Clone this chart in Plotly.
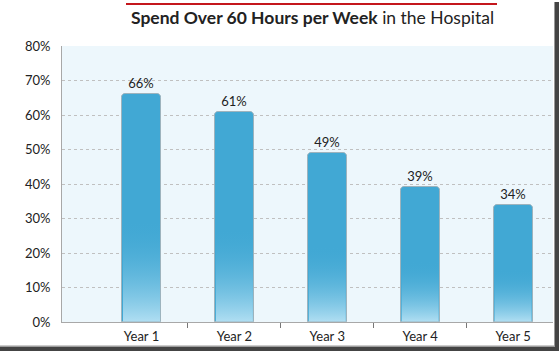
import plotly.graph_objects as go
import numpy as np

categories = ["Year 1", "Year 2", "Year 3", "Year 4", "Year 5"]
values = [66, 61, 49, 39, 34]
y_ticks = [0, 10, 20, 30, 40, 50, 60, 70, 80]
y_tick_labels = [f"{v}%" for v in y_ticks]

W, H = 559, 351
L, R, T, B = 62, 6, 46, 29
PW, PH = W - L - R, H - T - B
XR = [-0.856, 4.43]
YR = [0, 80]

def px_x(p):
    return (p - L) / PW

def px_y(p):
    return (H - B - p) / PH

BAR_W = 0.42
DARK = "#41a8d4"

fig = go.Figure()
xs = list(range(len(categories)))

fig.add_trace(go.Bar(
    x=xs, y=values, width=BAR_W,
    marker=dict(color=DARK, line=dict(color="#9db3bd", width=1), cornerradius=4),
    text=[f"{v}%" for v in values], textposition="outside",
    textfont=dict(family="Lato", size=13, color="#222"),
    cliponaxis=False, hoverinfo="skip", showlegend=False,
))

# gradient overlay on the lower part of each bar
ux = (XR[1] - XR[0]) / PW
for i, v in zip(xs, values):
    x0 = i - BAR_W / 2 + 1.0 * ux
    x1 = i + BAR_W / 2 - 1.0 * ux
    top = v * 0.45
    fig.add_trace(go.Scatter(
        x=[x0, x1, x1, x0, x0], y=[0.15, 0.15, top, top, 0.15],
        mode="lines", line=dict(width=0), fill="toself",
        fillgradient=dict(type="vertical",
                          colorscale=[[0, "rgba(175,222,242,1)"], [1, "rgba(65,168,212,0)"]]),
        hoverinfo="skip", showlegend=False,
    ))

fig.update_layout(
    width=W, height=H,
    margin=dict(l=L, r=R, t=T, b=B),
    paper_bgcolor="white", plot_bgcolor="#edf7fc",
    font=dict(family="Lato", color="#222"),
    title=dict(text="<b>Spend Over 60 Hours per Week</b> in the Hospital",
               x=px_x(312.5), xref="paper", xanchor="center",
               y=1 - 18 / H, yref="container", yanchor="middle",
               font=dict(family="Lato", size=17.5, color="#222")),
    xaxis=dict(range=XR, tickvals=xs, ticktext=categories, ticks="",
               showgrid=False, zeroline=False, showline=True, linecolor="#a8a8a8",
               linewidth=1, tickfont=dict(size=13, color="#222"),
               ticklabelstandoff=2,
               minor=dict(tickmode="array", tickvals=[0.5, 1.5, 2.5, 3.5],
                          ticks="outside", ticklen=5, tickcolor="#777", showgrid=False)),
    yaxis=dict(range=YR, tickvals=y_ticks, ticktext=y_tick_labels,
               showgrid=True, gridcolor="#c0c0c0", griddash="dot", gridwidth=1,
               zeroline=False, showline=True, linecolor="#a8a8a8", linewidth=1,
               tickfont=dict(size=13, color="#222"), ticks="", ticklabelstandoff=8),
    bargap=0,
    shapes=[
        dict(type="line", xref="paper", yref="paper",
             x0=px_x(126), x1=px_x(497), y0=px_y(4), y1=px_y(4),
             line=dict(color="#c4161c", width=2)),
        dict(type="rect", xref="paper", yref="paper",
             x0=px_x(555), x1=px_x(559), y0=px_y(351), y1=px_y(2),
             fillcolor="#444", line=dict(width=0), layer="above"),
        dict(type="rect", xref="paper", yref="paper",
             x0=px_x(0), x1=px_x(559), y0=px_y(351), y1=px_y(346.5),
             fillcolor="#444", line=dict(width=0), layer="above"),
        dict(type="rect", xref="paper", yref="paper",
             x0=px_x(554), x1=px_x(555), y0=px_y(346.5), y1=px_y(2),
             fillcolor="#999", line=dict(width=0), layer="above"),
        dict(type="rect", xref="paper", yref="paper",
             x0=px_x(0), x1=px_x(555), y0=px_y(346.5), y1=px_y(345.5),
             fillcolor="#999", line=dict(width=0), layer="above"),
    ],
)

fig.write_html("out.html")
